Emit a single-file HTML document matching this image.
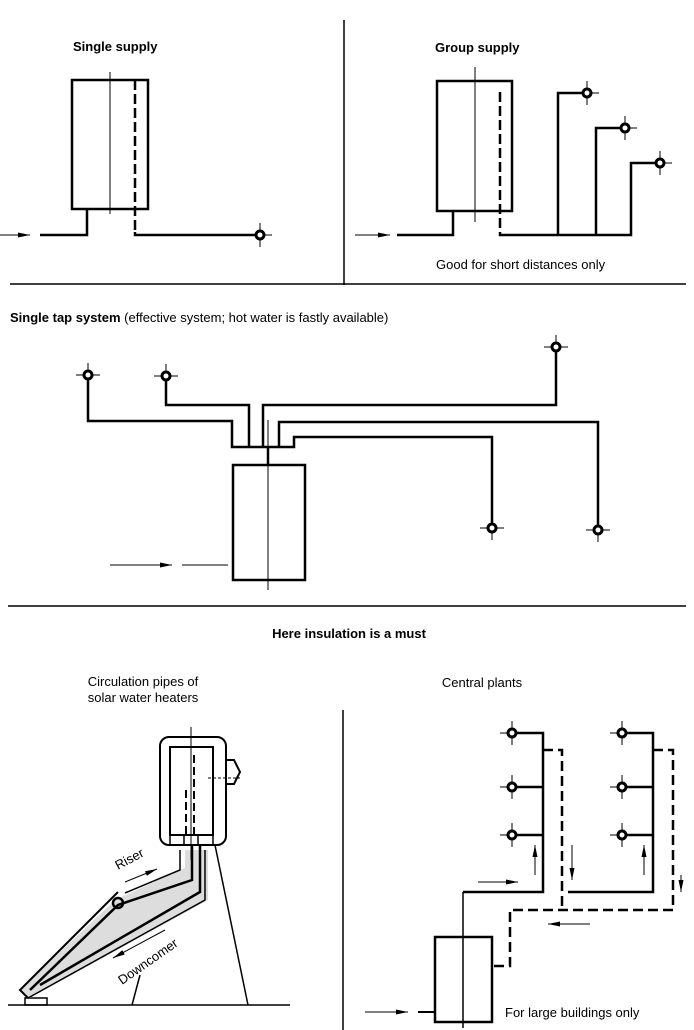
<!DOCTYPE html>
<html><head><meta charset="utf-8"><style>
body{margin:0;background:#fff;}
svg{display:block;}
text{font-family:"Liberation Sans",sans-serif;fill:#000;}
</style></head><body>
<svg width="694" height="1030" viewBox="0 0 694 1030" xmlns="http://www.w3.org/2000/svg">
<defs>
<marker id="ar" viewBox="0 0 12 6" refX="12" refY="3" markerWidth="12" markerHeight="6" markerUnits="userSpaceOnUse" orient="auto"><path d="M0,0.5 L12,3 L0,5.5 Z" fill="#000"/></marker>
<g id="tap"><line x1="-12" y1="0" x2="12" y2="0" stroke="#000" stroke-width="1"/><line x1="0" y1="-12" x2="0" y2="12" stroke="#000" stroke-width="1"/><circle r="4" fill="#fff" stroke="#000" stroke-width="3"/></g>
</defs>
<g stroke="#000" fill="none">
<line x1="344" y1="20" x2="344" y2="285" stroke-width="1.5"/>
<line x1="10" y1="284" x2="686" y2="284" stroke-width="1.5"/>
<line x1="8" y1="606" x2="686" y2="606" stroke-width="1.5"/>
<line x1="343" y1="710" x2="343" y2="1030" stroke-width="1.5"/>

<rect x="72" y="80" width="76" height="129" stroke-width="2.5"/>
<line x1="110" y1="72" x2="110" y2="214" stroke-width="1"/>
<line x1="135" y1="80" x2="135" y2="232" stroke-width="2.5" stroke-dasharray="10,4"/>
<polyline points="135,232 135,235 260,235" stroke-width="2.5"/>
<polyline points="40,235 87,235 87,209" stroke-width="2.5"/>
<line x1="0" y1="235" x2="30" y2="235" stroke-width="1" marker-end="url(#ar)"/>

<rect x="437" y="81" width="75" height="130" stroke-width="2.5"/>
<line x1="475" y1="67" x2="475" y2="222" stroke-width="1"/>
<line x1="500" y1="92" x2="500" y2="232" stroke-width="2.5" stroke-dasharray="10,4"/>
<polyline points="500,232 500,235 631,235 631,163 660,163" stroke-width="2.5"/>
<polyline points="558,235 558,93 587,93" stroke-width="2.5"/>
<polyline points="596,235 596,128 625,128" stroke-width="2.5"/>
<polyline points="397,235 453,235 453,211" stroke-width="2.5"/>
<line x1="355" y1="235" x2="390" y2="235" stroke-width="1" marker-end="url(#ar)"/>

<rect x="233" y="465" width="72" height="115" stroke-width="2.5"/>
<line x1="268" y1="420" x2="268" y2="590" stroke-width="1"/>
<line x1="268" y1="447" x2="268" y2="465" stroke-width="2.5"/>
<polyline points="88,375 88,421 232,421 232,447 294,447 294,437 492,437 492,528" stroke-width="2.5"/>
<polyline points="166,376 166,405 249,405 249,447" stroke-width="2.5"/>
<polyline points="263,447 263,405 556,405 556,347" stroke-width="2.5"/>
<polyline points="279,447 279,422 598,422 598,530" stroke-width="2.5"/>
<line x1="110" y1="565" x2="172" y2="565" stroke-width="1" marker-end="url(#ar)"/>
<line x1="182" y1="565" x2="228" y2="565" stroke-width="1"/>

<rect x="435" y="937" width="57" height="85" stroke-width="2.5"/>
<line x1="463" y1="892" x2="463" y2="1028" stroke-width="1.5"/>
<polyline points="463,892 543,892 543,733 512,733" stroke-width="2.5"/>
<line x1="512" y1="787" x2="543" y2="787" stroke-width="2.5"/>
<line x1="512" y1="835" x2="543" y2="835" stroke-width="2.5"/>
<polyline points="568,892 653,892 653,733 622,733" stroke-width="2.5"/>
<line x1="622" y1="787" x2="653" y2="787" stroke-width="2.5"/>
<line x1="622" y1="835" x2="653" y2="835" stroke-width="2.5"/>
<polyline points="543,750 562,750 562,910" stroke-width="2.5" stroke-dasharray="10,5"/>
<polyline points="653,750 673,750 673,910 510,910 510,966 492,966" stroke-width="2.5" stroke-dasharray="10,5"/>
<line x1="535" y1="875" x2="535" y2="845" stroke-width="1" marker-end="url(#ar)"/>
<line x1="572" y1="845" x2="572" y2="880" stroke-width="1" marker-end="url(#ar)"/>
<line x1="644" y1="875" x2="644" y2="845" stroke-width="1" marker-end="url(#ar)"/>
<line x1="681" y1="875" x2="681" y2="892" stroke-width="1" marker-end="url(#ar)"/>
<line x1="478" y1="882" x2="518" y2="882" stroke-width="1" marker-end="url(#ar)"/>
<line x1="590" y1="924" x2="548" y2="924" stroke-width="1" marker-end="url(#ar)"/>
<line x1="365" y1="1012" x2="408" y2="1012" stroke-width="1" marker-end="url(#ar)"/>
<line x1="418" y1="1012" x2="435" y2="1012" stroke-width="2"/>

<line x1="8" y1="1005" x2="290" y2="1005" stroke-width="1.5"/>
<rect x="25" y="998" width="22" height="7" stroke-width="1.5"/>
<line x1="132" y1="1005" x2="140" y2="975" stroke-width="1.5"/>
<line x1="215" y1="845" x2="248" y2="1005" stroke-width="1.5"/>
<polygon points="115,900 185,868 185,850 208,850 208,900 30,998 20,990" fill="#ddd" stroke="none"/>
<polyline points="118,892 20,990 28,998" stroke-width="2"/>
<polyline points="125,893 180,870 180,850" stroke-width="1.5"/>
<polyline points="28,998 205,900 205,850" stroke-width="1.5"/>
<polyline points="30,990 118,905 192,880 192,845" stroke-width="2.5"/>
<polyline points="40,985 200,892 200,845" stroke-width="2.5"/>
<circle cx="118" cy="903" r="5" stroke-width="2.5"/>
<rect x="160" y="737" width="66" height="108" rx="9" stroke-width="2"/>
<rect x="170" y="747" width="43" height="88" stroke-width="2"/>
<rect x="170" y="835" width="43" height="10" stroke-width="1.5"/>
<line x1="184" y1="835" x2="184" y2="845" stroke-width="1.5"/>
<line x1="198" y1="835" x2="198" y2="845" stroke-width="1.5"/>
<line x1="191" y1="727" x2="191" y2="860" stroke-width="1"/>
<line x1="194" y1="755" x2="194" y2="835" stroke-width="2" stroke-dasharray="8,4"/>
<line x1="186" y1="790" x2="186" y2="835" stroke-width="2" stroke-dasharray="8,4"/>
<path d="M226,760 h8 l6,12 l-6,12 h-8 Z" stroke-width="2"/>
<line x1="208" y1="778" x2="240" y2="778" stroke-width="1" stroke-dasharray="3,2"/>
<line x1="125" y1="882" x2="157" y2="869" stroke-width="1" marker-end="url(#ar)"/>
<line x1="165" y1="930" x2="113" y2="958" stroke-width="1" marker-end="url(#ar)"/>
</g>
<g stroke="#000">
<use href="#tap" x="260" y="235"/>
<use href="#tap" x="587" y="93"/>
<use href="#tap" x="625" y="128"/>
<use href="#tap" x="660" y="163"/>
<use href="#tap" x="88" y="375"/>
<use href="#tap" x="166" y="376"/>
<use href="#tap" x="556" y="347"/>
<use href="#tap" x="492" y="528"/>
<use href="#tap" x="598" y="530"/>
<use href="#tap" x="512" y="733"/>
<use href="#tap" x="512" y="787"/>
<use href="#tap" x="512" y="835"/>
<use href="#tap" x="622" y="733"/>
<use href="#tap" x="622" y="787"/>
<use href="#tap" x="622" y="835"/>
</g>
<text x="73" y="51" font-size="13" font-weight="bold">Single supply</text>
<text x="435" y="52" font-size="13" font-weight="bold">Group supply</text>
<text x="436" y="269" font-size="13">Good for short distances only</text>
<text x="10" y="322" font-size="13"><tspan font-weight="bold">Single tap system</tspan> (effective system; hot water is fastly available)</text>
<text x="349" y="638" font-size="13" font-weight="bold" text-anchor="middle">Here insulation is a must</text>
<text x="143" y="686" font-size="13" text-anchor="middle">Circulation pipes of</text>
<text x="143" y="702" font-size="13" text-anchor="middle">solar water heaters</text>
<text x="482" y="687" font-size="13" text-anchor="middle">Central plants</text>
<text x="505" y="1017" font-size="13">For large buildings only</text>
<text x="118" y="870" font-size="13" transform="rotate(-28 118 870)">Riser</text>
<text x="122" y="985" font-size="13" transform="rotate(-35 122 985)">Downcomer</text>
</svg>
</body></html>
